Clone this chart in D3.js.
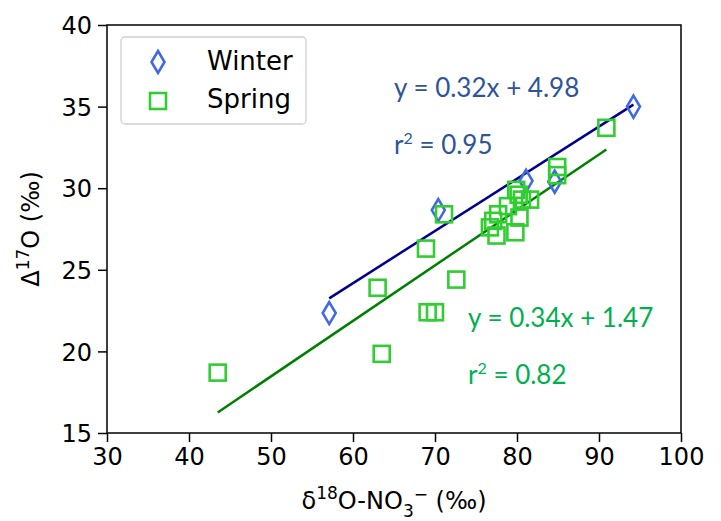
<!DOCTYPE html>
<html>
<head>
<meta charset="utf-8">
<script src="https://cdn.jsdelivr.net/npm/d3@7"></script>
<style>
  html, body { margin: 0; padding: 0; background: #fff; }
  svg { display: block; }
</style>
</head>
<body>
<div id="chart"></div>
<script>
/* Δ17O vs δ18O-NO3− scatter, winter vs spring */

const X_TICKS = [30, 40, 50, 60, 70, 80, 90, 100];
const Y_TICKS = [15, 20, 25, 30, 35, 40];

const WINTER_X = [57.1, 70.4, 81.1, 84.6, 94.2];
const WINTER_Y = [22.35, 28.66, 30.45, 30.4, 35.0];

const SPRING_X = [43.5, 63.0, 63.5, 68.9, 69.1, 70.0, 71.1, 72.6, 76.7, 77.1, 77.5, 77.7,
                  78.9, 79.8, 80.3, 79.9, 80.2, 80.6, 81.6, 84.9, 84.9, 90.9];
const SPRING_Y = [18.7, 23.9, 19.85, 26.3, 22.4, 22.4, 28.4, 24.4, 27.6, 28.0, 27.1, 28.4,
                  28.9, 27.3, 28.2, 29.9, 29.6, 29.3, 29.3, 31.3, 30.8, 33.7];

// fitted lines as printed on the chart
const WINTER_FIT = { slope: 0.32, icpt: 4.98, label: "y = 0.32x + 4.98", r2: "0.95" };
const SPRING_FIT = { slope: 0.34, icpt: 1.47, label: "y = 0.34x + 1.47", r2: "0.82" };

const W = 721, H = 521,
      M = { left: 107, right: 40, top: 25, bottom: 88 };

const svg = d3.select("#chart").append("svg")
  .attr("width", W).attr("height", H);

const xS = d3.scaleLinear().domain([30, 100]).range([M.left, W - M.right]);
const yS = d3.scaleLinear().domain([15, 40]).range([H - M.bottom, M.top]);

const TICK_FONT = "DejaVu Sans, sans-serif";

/* ---- axes ---- */
const xAx = svg.append("g")
  .attr("transform", `translate(0,${H - M.bottom})`)
  .call(d3.axisBottom(xS).tickValues(X_TICKS).tickSize(9).tickSizeOuter(0).tickPadding(6));
const yAx = svg.append("g")
  .attr("transform", `translate(${M.left},0)`)
  .call(d3.axisLeft(yS).tickValues(Y_TICKS).tickSize(9).tickSizeOuter(0).tickPadding(6));

[xAx, yAx].forEach(g => {
  g.select(".domain").remove();
  g.selectAll("line").attr("stroke", "#000").attr("stroke-width", 1.5);
  g.selectAll("text").attr("fill", "#000")
    .style("font-family", TICK_FONT).style("font-size", "24px");
});
yAx.selectAll("text").attr("dy", "0.36em");

// frame
svg.append("rect")
  .attr("x", xS(30)).attr("y", yS(40))
  .attr("width", xS(100) - xS(30)).attr("height", yS(15) - yS(40))
  .attr("fill", "none").attr("stroke", "#000").attr("stroke-width", 1.5);

/* ---- axis labels ---- */
const xl = svg.append("text")
  .attr("x", (xS(30) + xS(100)) / 2).attr("y", 509)
  .attr("text-anchor", "middle")
  .style("font-family", TICK_FONT).style("font-size", "24px");
xl.append("tspan").text("δ");
xl.append("tspan").attr("dy", -10).style("font-size", "17px").text("18");
xl.append("tspan").attr("dy", 10).text("O-NO");
xl.append("tspan").attr("dy", 8).style("font-size", "17px").text("3");
xl.append("tspan").attr("dy", -17).style("font-size", "17px").text("−");
xl.append("tspan").attr("dy", 9).text(" (‰)");

const yl = svg.append("text")
  .attr("transform", `translate(39,${(yS(15) + yS(40)) / 2}) rotate(-90)`)
  .attr("text-anchor", "middle")
  .style("font-family", TICK_FONT).style("font-size", "24px");
yl.append("tspan").text("Δ");
yl.append("tspan").attr("dy", -10).style("font-size", "17px").text("17");
yl.append("tspan").attr("dy", 10).text("O (‰)");

/* ---- regression lines ---- */
function fitLine(xs, fit, color) {
  const x0 = d3.min(xs), x1 = d3.max(xs);
  svg.append("line")
    .attr("x1", xS(x0)).attr("y1", yS(fit.slope * x0 + fit.icpt))
    .attr("x2", xS(x1)).attr("y2", yS(fit.slope * x1 + fit.icpt))
    .attr("stroke", color).attr("stroke-width", 2.5);
}
fitLine(WINTER_X, WINTER_FIT, "#00008b");
fitLine(SPRING_X, SPRING_FIT, "#008000");

/* ---- markers ---- */
const diamond = (cx, cy) => `M${cx},${cy - 11}L${cx + 6.5},${cy}L${cx},${cy + 11}L${cx - 6.5},${cy}Z`;

svg.append("g").selectAll("path")
  .data(WINTER_X.map((x, i) => [x, WINTER_Y[i]]))
  .join("path")
  .attr("d", d => diamond(xS(d[0]), yS(d[1])))
  .attr("fill", "none").attr("stroke", "#4169e1").attr("stroke-width", 2.6)
  .attr("stroke-linejoin", "miter");

svg.append("g").selectAll("rect")
  .data(SPRING_X.map((x, i) => [x, SPRING_Y[i]]))
  .join("rect")
  .attr("x", d => xS(d[0]) - 8).attr("y", d => yS(d[1]) - 8)
  .attr("width", 16).attr("height", 16)
  .attr("fill", "none").attr("stroke", "#32cd32").attr("stroke-width", 2.6);

/* ---- legend ---- */
const leg = svg.append("g");
leg.append("rect")
  .attr("x", 121).attr("y", 37).attr("width", 185).attr("height", 87).attr("rx", 4)
  .attr("fill", "#fff").attr("fill-opacity", 0.8)
  .attr("stroke", "#d0d0d0").attr("stroke-width", 1.3);
leg.append("path").attr("d", diamond(158, 62))
  .attr("fill", "none").attr("stroke", "#4169e1").attr("stroke-width", 2.6);
leg.append("rect").attr("x", 150).attr("y", 93).attr("width", 16).attr("height", 16)
  .attr("fill", "none").attr("stroke", "#32cd32").attr("stroke-width", 2.6);
leg.selectAll("text.lab")
  .data([["Winter", 70], ["Spring", 108]])
  .join("text").attr("class", "lab")
  .attr("x", 207).attr("y", d => d[1])
  .style("font-family", TICK_FONT).style("font-size", "26px")
  .text(d => d[0]);

/* ---- equations ---- */
const EQ_FONT = "Lato, 'Open Sans', sans-serif";
function eqText(fit, x, y1, y2, color) {
  svg.append("text").attr("x", x).attr("y", y1)
    .attr("fill", color).style("font-family", EQ_FONT).style("font-size", "26px")
    .text(fit.label);
  const r = svg.append("text").attr("x", x).attr("y", y2)
    .attr("fill", color).style("font-family", EQ_FONT).style("font-size", "26px");
  r.append("tspan").text("r");
  r.append("tspan").attr("dy", -10).style("font-size", "16px").text("2");
  r.append("tspan").attr("dy", 10).text(` = ${fit.r2}`);
}
eqText(WINTER_FIT, 394, 97, 154, "#2f5597");
eqText(SPRING_FIT, 468, 327, 384, "#00b050");
</script>
</body>
</html>
